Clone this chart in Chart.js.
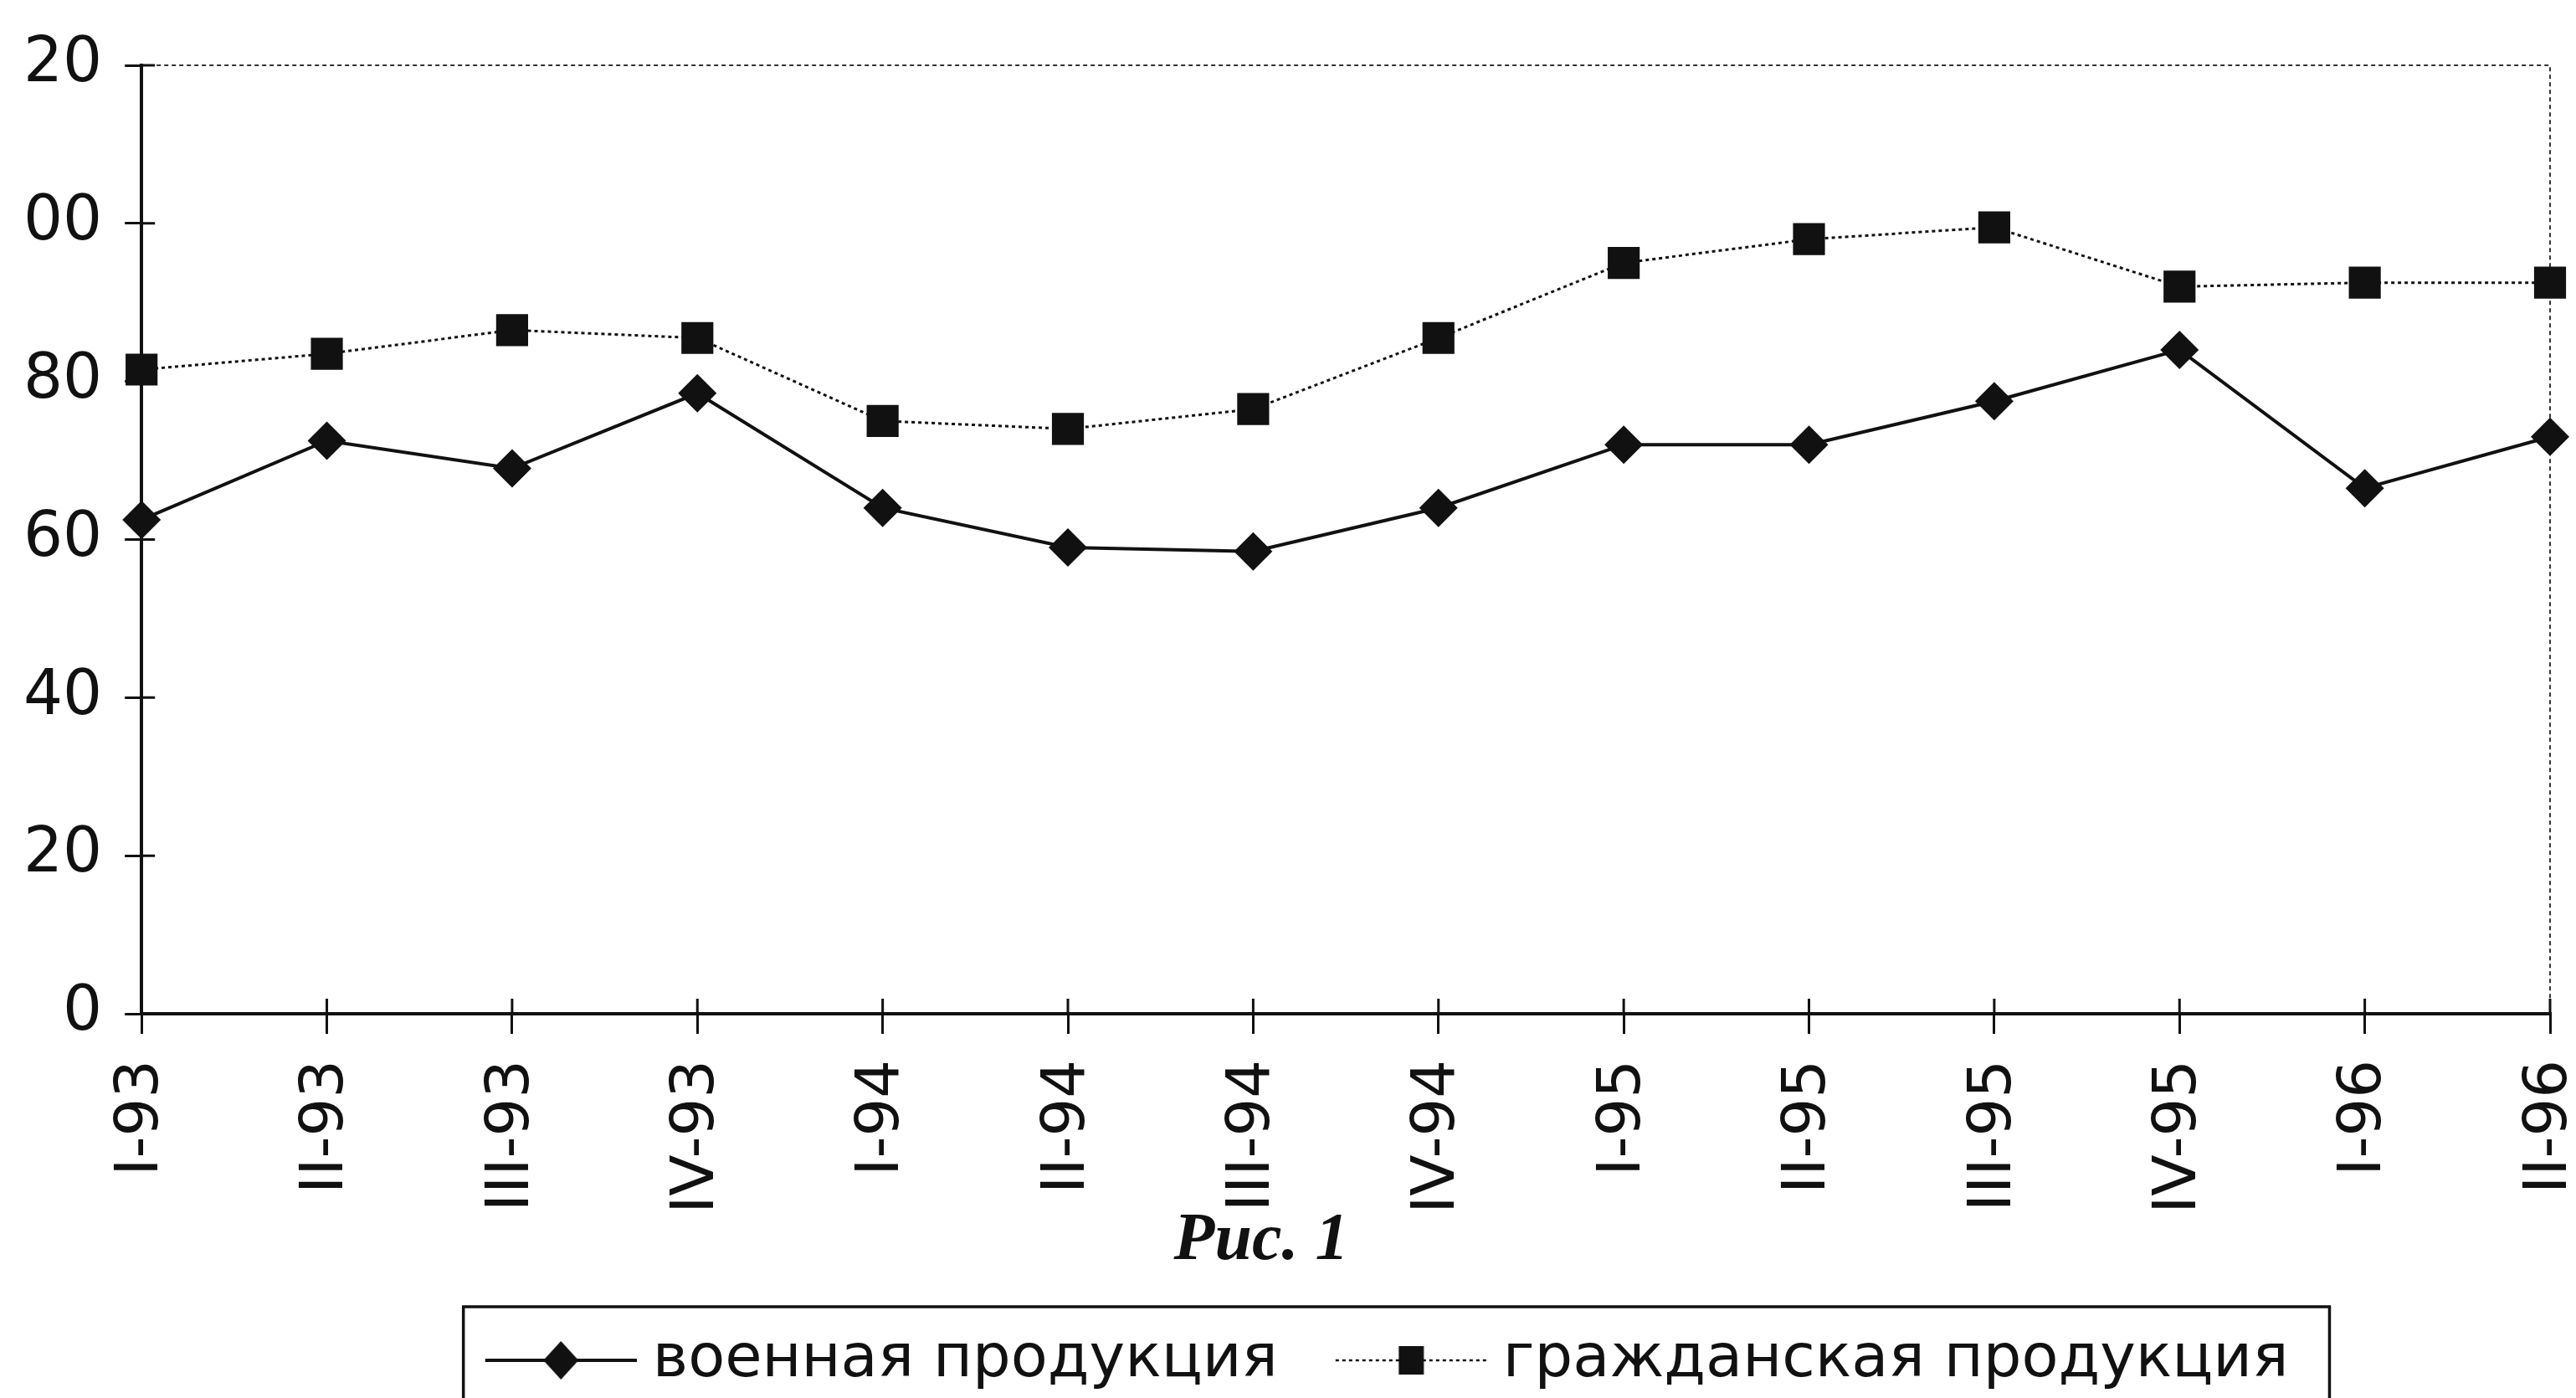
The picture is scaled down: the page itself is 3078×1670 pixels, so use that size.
<!DOCTYPE html>
<html><head><meta charset="utf-8">
<script src="https://cdn.jsdelivr.net/npm/chart.js@4.4.1/dist/chart.umd.min.js"></script>
<style>html,body{margin:0;padding:0;background:#fff;overflow:hidden}#wrap{width:3078px;height:1670px;position:relative}</style>
</head><body><div id="wrap"><canvas id="c"></canvas></div>
<script>
const quarters = ['I-93','II-93','III-93','IV-93','I-94','II-94','III-94','IV-94','I-95','II-95','III-95','IV-95','I-96','II-96'];
const military = [62.5, 72.5, 69, 78.5, 64, 59, 58.5, 64, 72, 72, 77.5, 84, 66.5, 73];
const civil = [81.5, 83.5, 86.5, 85.5, 75, 74, 76.5, 85.5, 95, 98, 99.5, 92, 92.5, 92.5];
const yTickValues = [0, 20, 40, 60, 80, 100, 120];
const yTickLabels = ['0', '20', '40', '60', '80', '00', '20'];
const seriesNames = ['военная продукция', 'гражданская продукция'];
const captionText = 'Рис. 1';

const INK = '#111';
Chart.defaults.font.family = 'DejaVu Sans';
Chart.defaults.color = INK;

// legend sample: canvas centred on the legend box; content offset to the right
function legendSample(kind) {
  const c = document.createElement('canvas');
  c.width = 216; c.height = 52;
  const g = c.getContext('2d');
  g.strokeStyle = INK; g.fillStyle = INK;
  const x0 = 35, x1 = 216, mx = (x0 + x1) / 2;
  g.beginPath();
  if (kind === 'diamond') {
    g.lineWidth = 4;
    g.moveTo(x0, 26); g.lineTo(x1, 26); g.stroke();
    g.beginPath();
    g.moveTo(mx, 3); g.lineTo(mx + 21, 26); g.lineTo(mx, 49); g.lineTo(mx - 21, 26); g.closePath(); g.fill();
  } else {
    g.lineWidth = 2.5; g.setLineDash([4, 4]);
    g.moveTo(x0, 26); g.lineTo(x1, 26); g.stroke();
    g.setLineDash([]);
    g.fillRect(mx - 15, 9, 30, 34);
  }
  return c;
}
const samples = [legendSample('diamond'), legendSample('square')];

const framePlugin = {
  id: 'frame',
  afterLayout(chart) {
    if (chart.legend) { chart.legend.left += 40; chart.legend.right += 40; }
    if (chart.titleBlock) { chart.titleBlock.left -= 17; chart.titleBlock.right -= 17; }
  },
  beforeDatasetsDraw(chart) {
    const {ctx, chartArea: a, scales} = chart;
    ctx.save();
    ctx.strokeStyle = '#333';
    ctx.lineWidth = 2;
    ctx.setLineDash([5, 4]);
    ctx.beginPath();
    ctx.moveTo(a.left, a.top); ctx.lineTo(a.right, a.top); ctx.lineTo(a.right, a.bottom);
    ctx.stroke();
    ctx.setLineDash([]);
    ctx.strokeStyle = INK;
    ctx.lineWidth = 3;
    ctx.beginPath();
    scales.y.ticks.forEach((t, i) => {
      const y = scales.y.getPixelForTick(i);
      ctx.moveTo(a.left, y); ctx.lineTo(a.left + 16, y);
    });
    scales.x.ticks.forEach((t, i) => {
      const x = scales.x.getPixelForTick(i);
      ctx.moveTo(x, a.bottom); ctx.lineTo(x, a.bottom - 18);
    });
    ctx.stroke();
    ctx.restore();
  },
  afterDraw(chart) {
    const lg = chart.legend;
    if (!lg || !lg.legendHitBoxes || !lg.legendHitBoxes.length) return;
    const hb = lg.legendHitBoxes;
    const left = hb[0].left - 8;
    const last = hb[hb.length - 1];
    const right = last.left + last.width + 49;
    const ctx = chart.ctx;
    ctx.save();
    ctx.strokeStyle = INK;
    ctx.lineWidth = 3.5;
    ctx.strokeRect(left, lg.top + 23, right - left, 300);
    ctx.restore();
  }
};

new Chart(document.getElementById('c'), {
  type: 'line',
  data: {
    labels: quarters,
    datasets: [
      {
        label: seriesNames[0], data: military,
        borderColor: INK, borderWidth: 4, tension: 0,
        pointStyle: 'rectRot', pointRadius: 23, pointHoverRadius: 23,
        pointBackgroundColor: INK, pointBorderColor: INK, pointBorderWidth: 0,
        clip: false
      },
      {
        label: seriesNames[1], data: civil,
        borderColor: INK, borderWidth: 3, borderDash: [4, 4], tension: 0,
        pointStyle: 'rect', pointRadius: 27, pointHoverRadius: 27,
        pointBackgroundColor: INK, pointBorderColor: INK, pointBorderWidth: 0,
        clip: false
      }
    ]
  },
  options: {
    responsive: true,
    maintainAspectRatio: false,
    animation: false,
    layout: {padding: {top: 78, left: 1, right: 31, bottom: -1}},
    scales: {
      x: {
        type: 'category',
        offset: false,
        afterFit: (s) => { s.paddingLeft = 0; s.paddingRight = 0; s.height = 236; },
        grid: {display: true, drawOnChartArea: false, drawTicks: true, tickLength: 24, color: INK, lineWidth: 3},
        border: {display: true, color: INK, width: 4},
        ticks: {autoSkip: false, maxRotation: 90, minRotation: 90, padding: 31, color: INK,
                font: {family: 'DejaVu Sans', size: 72}}
      },
      y: {
        min: 0, max: 120,
        grid: {display: true, drawOnChartArea: false, drawTicks: true, tickLength: 20, color: INK, lineWidth: 3},
        border: {display: true, color: INK, width: 4},
        ticks: {
          stepSize: 20, padding: 27, color: INK,
          font: {family: 'DejaVu Sans', size: 74},
          callback: (v) => { const i = yTickValues.indexOf(v); return i >= 0 ? yTickLabels[i] : ''; }
        }
      }
    },
    plugins: {
      tooltip: {enabled: false},
      title: {
        display: true, text: captionText, position: 'bottom', fullSize: true, weight: 500,
        color: INK, padding: {top: 0, bottom: 19},
        font: {family: 'Liberation Serif', size: 80, style: 'italic', weight: 'bold', lineHeight: 0.9}
      },
      legend: {
        display: true, position: 'bottom', fullSize: false, weight: 1000,
        labels: {
          usePointStyle: true, pointStyleWidth: 182, padding: 51, color: INK,
          font: {family: 'DejaVu Sans', size: 72},
          generateLabels: (chart) => chart.data.datasets.map((ds, i) => ({
            text: ds.label, pointStyle: samples[i], fillStyle: INK, strokeStyle: INK,
            lineWidth: 0, hidden: false, datasetIndex: i, fontColor: INK
          }))
        }
      }
    }
  },
  plugins: [framePlugin]
});
</script></body></html>
